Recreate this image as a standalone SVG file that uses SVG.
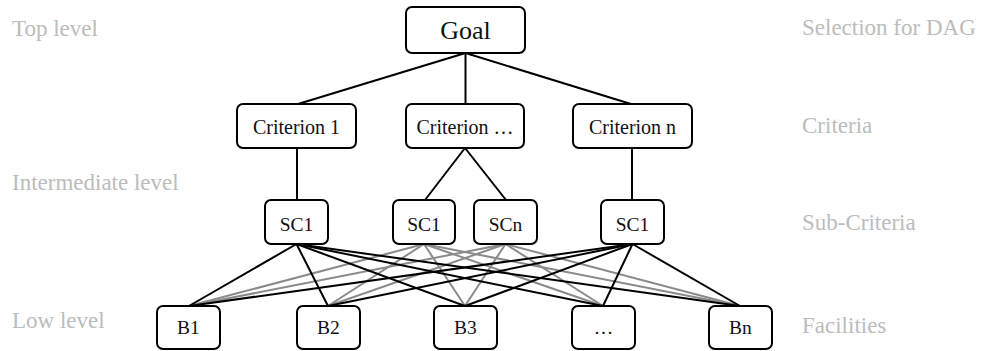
<svg xmlns="http://www.w3.org/2000/svg" width="982" height="351" viewBox="0 0 982 351">
<style>
.box{fill:#fff;stroke:#000;stroke-width:2}
.t{font-family:"Liberation Serif","Times New Roman",serif;fill:#111;text-anchor:middle}
.side{font-family:"Liberation Serif","Times New Roman",serif;fill:#bcbcbc;font-size:23px}
.k{stroke:#000;stroke-width:2;fill:none}
.g{stroke:#8a8a8a;stroke-width:2;fill:none}
</style>
<rect width="982" height="351" fill="#fff"/>
<g id="side-labels">
<text class="side" x="12" y="36">Top level</text>
<text class="side" x="12" y="190">Intermediate level</text>
<text class="side" x="12" y="328">Low level</text>
<text class="side" x="802" y="35">Selection for DAG</text>
<text class="side" x="802" y="133">Criteria</text>
<text class="side" x="802" y="230">Sub-Criteria</text>
<text class="side" x="802" y="333">Facilities</text>
</g>
<g id="connectors">
<line class="k" x1="465.5" y1="53" x2="298" y2="104"/>
<line class="k" x1="465.5" y1="53" x2="465.5" y2="104"/>
<line class="k" x1="465.5" y1="53" x2="631" y2="104"/>
<line class="k" x1="297" y1="148" x2="297" y2="200"/>
<line class="k" x1="465" y1="148" x2="425" y2="200"/>
<line class="k" x1="465" y1="148" x2="506" y2="200"/>
<line class="k" x1="632" y1="148" x2="632" y2="200"/>
<g id="gray-links">
<line class="g" x1="424" y1="244" x2="189" y2="306"/>
<line class="g" x1="424" y1="244" x2="328" y2="306"/>
<line class="g" x1="424" y1="244" x2="465" y2="306"/>
<line class="g" x1="424" y1="244" x2="603" y2="306"/>
<line class="g" x1="424" y1="244" x2="740" y2="306"/>
<line class="g" x1="505.5" y1="244" x2="189" y2="306"/>
<line class="g" x1="505.5" y1="244" x2="328" y2="306"/>
<line class="g" x1="505.5" y1="244" x2="465" y2="306"/>
<line class="g" x1="505.5" y1="244" x2="603" y2="306"/>
<line class="g" x1="505.5" y1="244" x2="740" y2="306"/>
</g>
<g id="black-links">
<line class="k" x1="296.5" y1="244" x2="189" y2="306"/>
<line class="k" x1="296.5" y1="244" x2="328" y2="306"/>
<line class="k" x1="296.5" y1="244" x2="465" y2="306"/>
<line class="k" x1="296.5" y1="244" x2="603" y2="306"/>
<line class="k" x1="296.5" y1="244" x2="740" y2="306"/>
<line class="k" x1="632.5" y1="244" x2="189" y2="306"/>
<line class="k" x1="632.5" y1="244" x2="328" y2="306"/>
<line class="k" x1="632.5" y1="244" x2="465" y2="306"/>
<line class="k" x1="632.5" y1="244" x2="603" y2="306"/>
<line class="k" x1="632.5" y1="244" x2="740" y2="306"/>
</g>
</g>
<g id="goal"><rect class="box" x="406" y="7" width="119" height="46" rx="6"/><text class="t" x="465.5" y="39" font-size="26">Goal</text></g>
<g id="criterion-1"><rect class="box" x="237" y="104" width="119" height="44" rx="6"/><text class="t" x="296.5" y="134" font-size="20">Criterion 1</text></g>
<g id="criterion-dots"><rect class="box" x="406" y="104" width="118" height="44" rx="6"/><text class="t" x="465" y="134" font-size="20">Criterion …</text></g>
<g id="criterion-n"><rect class="box" x="573" y="104" width="119" height="44" rx="6"/><text class="t" x="632.5" y="134" font-size="20">Criterion n</text></g>
<g id="sc1-a"><rect class="box" x="265" y="200" width="63" height="44" rx="6"/><text class="t" x="296.5" y="231" font-size="19.5">SC1</text></g>
<g id="sc1-b"><rect class="box" x="393" y="200" width="62" height="44" rx="6"/><text class="t" x="424" y="231" font-size="19.5">SC1</text></g>
<g id="scn"><rect class="box" x="474" y="200" width="63" height="44" rx="6"/><text class="t" x="505.5" y="231" font-size="19.5">SCn</text></g>
<g id="sc1-d"><rect class="box" x="601" y="200" width="63" height="44" rx="6"/><text class="t" x="632.5" y="231" font-size="19.5">SC1</text></g>
<g id="b1"><rect class="box" x="157" y="306" width="63" height="43" rx="6"/><text class="t" x="188.5" y="334" font-size="19.5">B1</text></g>
<g id="b2"><rect class="box" x="297" y="306" width="63" height="43" rx="6"/><text class="t" x="328.5" y="334" font-size="19.5">B2</text></g>
<g id="b3"><rect class="box" x="434" y="306" width="63" height="43" rx="6"/><text class="t" x="465.5" y="334" font-size="19.5">B3</text></g>
<g id="b-dots"><rect class="box" x="572" y="306" width="63" height="43" rx="6"/><text class="t" x="603.5" y="334" font-size="19.5">…</text></g>
<g id="bn"><rect class="box" x="709" y="306" width="63" height="43" rx="6"/><text class="t" x="740.5" y="334" font-size="19.5">Bn</text></g>
</svg>
